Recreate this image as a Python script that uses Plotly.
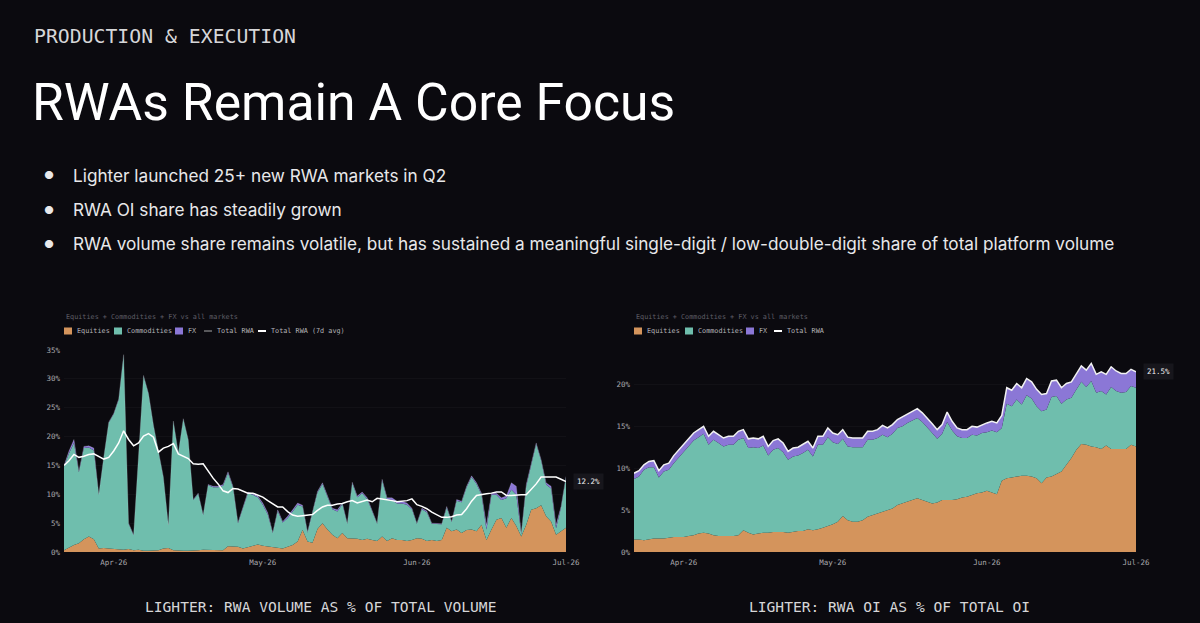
import plotly.graph_objects as go
import pandas as pd

# ---------------- DATA (% of platform) ----------------
dates = pd.date_range("2026-03-22", "2026-07-01", freq="D")

month_ticks = ["2026-04-01", "2026-05-01", "2026-06-01", "2026-07-01"]
month_labels = ["Apr-26", "May-26", "Jun-26", "Jul-26"]

vol_ticks = [0, 5, 10, 15, 20, 25, 30, 35]
vol_tick_labels = ["0%", "5%", "10%", "15%", "20%", "25%", "30%", "35%"]
oi_ticks = [0, 5, 10, 15, 20]
oi_tick_labels = ["0%", "5%", "10%", "15%", "20%"]

# Left chart: RWA volume as % of total volume
vol_equities = [
    0.3, 0.8, 1.2, 1.5, 2.2, 2.7, 2.2, 0.6, 0.7, 0.6,
    0.5, 0.4, 0.4, 0.5, 0.3, 0.4, 0.2, 0.2, 0.2, 0.3,
    0.6, 0.7, 0.3, 0.2, 0.2, 0.2, 0.2, 0.3, 0.4, 0.4,
    0.3, 0.3, 0.3, 1.0, 1.0, 0.9, 0.6, 0.8, 1.1, 1.3,
    1.1, 1.0, 0.9, 0.8, 0.6, 0.9, 1.2, 1.8, 3.8, 1.8,
    1.6, 4.0, 5.0, 3.9, 3.0, 2.4, 3.3, 2.4, 2.4, 2.3,
    2.1, 2.3, 2.1, 1.9, 2.7, 1.9, 2.4, 2.1, 2.1, 1.9,
    2.1, 2.4, 2.3, 1.9, 2.1, 1.9, 2.1, 4.2, 3.6, 3.9,
    3.3, 3.8, 3.9, 3.6, 4.7, 2.1, 3.9, 5.6, 5.9, 4.2,
    5.9, 4.5, 2.7, 4.7, 7.3, 7.6, 8.1, 6.2, 5.3, 3.0,
    3.6, 4.2,
]
vol_commodities = [
    14.5, 16.3, 17.7, 12.3, 15.8, 15.4, 15.4, 9.3, 15.7, 21.8,
    23.4, 26.0, 33.7, 4.4, 2.6, 16.5, 30.3, 27.2, 21.7, 17.1,
    12.3, 3.9, 22.3, 16.9, 22.8, 19.2, 8.8, 9.8, 6.0, 11.2,
    10.9, 10.9, 11.2, 12.7, 10.2, 4.1, 7.2, 9.4, 8.8, 8.2,
    7.1, 5.5, 2.4, 6.3, 4.5, 5.0, 5.8, 6.4, 4.1, 1.6,
    5.3, 6.3, 6.8, 5.6, 4.4, 4.6, 5.0, 2.5, 9.5, 7.2,
    8.1, 6.9, 5.0, 3.0, 9.7, 7.3, 6.6, 6.3, 6.3, 6.3,
    5.3, 2.5, 5.1, 5.0, 2.8, 2.9, 2.7, 3.5, 1.6, 5.0,
    5.3, 7.4, 9.1, 8.2, 5.2, 1.8, 6.0, 4.3, 3.1, 5.1,
    4.9, 5.4, 0.4, 6.7, 7.9, 11.1, 7.7, 5.5, 5.7, 1.1,
    4.1, 8.7,
]
vol_fx = [
    0.2, 0.4, 0.6, 0.2, 0.3, 0.3, 0.4, 0.1, 0.1, 0.1,
    0.1, 0.1, 0.1, 0.1, 0.1, 0.1, 0.1, 0.1, 0.1, 0.1,
    0.1, 0.1, 0.1, 0.1, 0.1, 0.1, 0.1, 0.1, 0.1, 0.1,
    0.2, 0.2, 0.2, 0.2, 0.2, 0.1, 0.1, 0.2, 0.2, 0.2,
    0.3, 0.3, 0.1, 0.2, 0.2, 0.3, 0.3, 0.3, 0.2, 0.1,
    0.1, 0.2, 0.2, 0.2, 0.2, 0.3, 0.2, 0.1, 0.2, 0.2,
    0.2, 0.2, 0.2, 0.1, 0.2, 0.2, 0.4, 0.4, 0.4, 0.3,
    0.2, 0.1, 0.2, 0.2, 0.1, 0.1, 0.1, 0.2, 0.1, 0.2,
    0.2, 0.2, 0.2, 0.2, 0.3, 0.8, 0.3, 0.3, 0.4, 0.4,
    1.2, 1.5, 0.2, 0.3, 0.2, 0.2, 0.2, 0.3, 0.4, 0.6,
    0.2, 0.2,
]
vol_total = [
    15.0, 17.5, 19.5, 14.0, 18.3, 18.4, 18.0, 10.0, 16.5, 22.5,
    24.0, 26.5, 34.2, 5.0, 3.0, 17.0, 30.6, 27.5, 22.0, 17.5,
    13.0, 4.7, 22.7, 17.2, 23.1, 19.5, 9.1, 10.2, 6.5, 11.7,
    11.4, 11.4, 11.7, 13.9, 11.4, 5.1, 7.9, 10.4, 10.1, 9.7,
    8.5, 6.8, 3.4, 7.3, 5.3, 6.2, 7.3, 8.5, 8.1, 3.5,
    7.0, 10.5, 12.0, 9.7, 7.6, 7.3, 8.5, 5.0, 12.1, 9.7,
    10.4, 9.4, 7.3, 5.0, 12.6, 9.4, 9.4, 8.8, 8.8, 8.5,
    7.6, 5.0, 7.6, 7.1, 5.0, 4.9, 4.9, 7.9, 5.3, 9.1,
    8.8, 11.4, 13.2, 12.0, 10.2, 4.7, 10.2, 10.2, 9.4, 9.7,
    12.0, 11.4, 3.3, 11.7, 15.4, 18.9, 16.0, 12.0, 11.4, 4.7,
    7.9, 13.1,
]
vol_total_7d = [
    15.0, 15.8, 16.9, 16.4, 16.6, 16.9, 17.0, 16.5, 16.1, 16.4,
    17.5, 18.9, 21.0, 19.5, 18.4, 18.9, 20.1, 20.5, 19.9, 17.3,
    18.0, 18.3, 18.8, 17.0, 16.6, 16.2, 15.3, 15.2, 15.3, 14.0,
    12.8, 11.8, 10.6, 10.3, 11.0, 10.9, 10.6, 10.2, 10.2, 9.9,
    9.5, 8.9, 8.3, 7.8, 7.8, 7.0, 6.4, 6.2, 6.3, 6.4,
    6.5, 7.2, 7.8, 8.1, 8.1, 8.3, 8.4, 8.7, 8.9, 8.5,
    8.7, 9.0, 8.7, 9.3, 9.2, 9.1, 8.9, 8.7, 8.8, 8.9,
    9.2, 8.2, 7.9, 7.5, 6.9, 6.5, 6.0, 6.0, 6.1, 6.4,
    6.5, 7.5, 8.8, 9.8, 10.0, 10.1, 10.2, 10.4, 10.4, 9.8,
    9.8, 9.9, 9.9, 9.9, 10.8, 11.8, 13.0, 13.0, 13.0, 13.0,
    12.6, 12.2,
]

# Right chart: RWA OI as % of total OI
oi_equities = [
    1.5, 1.5, 1.4, 1.5, 1.6, 1.6, 1.6, 1.7, 1.8, 1.8,
    1.8, 1.9, 2.0, 2.2, 2.3, 2.2, 2.0, 1.9, 1.9, 1.9,
    1.9, 2.0, 2.6, 2.3, 2.1, 2.2, 2.3, 2.3, 2.4, 2.4,
    2.4, 2.3, 2.4, 2.5, 2.5, 2.7, 2.6, 2.7, 2.9, 3.1,
    3.3, 3.6, 4.3, 3.8, 3.6, 3.6, 3.8, 4.2, 4.4, 4.6,
    4.8, 5.0, 5.2, 5.6, 5.8, 6.0, 6.2, 6.4, 6.2, 6.0,
    5.8, 5.9, 6.2, 6.2, 6.2, 6.3, 6.5, 6.6, 6.8, 7.0,
    7.1, 7.3, 7.1, 6.9, 8.5, 8.8, 8.9, 9.0, 9.1, 9.1,
    9.0, 8.8, 8.2, 8.9, 9.0, 9.3, 9.6, 10.4, 11.2, 12.2,
    12.9, 12.8, 12.6, 12.5, 12.3, 12.7, 12.3, 12.3, 12.3, 12.3,
    12.8, 12.6,
]
oi_commodities = [
    7.2, 7.5, 8.4, 8.6, 8.5, 7.3, 8.0, 8.1, 8.8, 9.5,
    10.1, 10.7, 11.3, 11.5, 11.8, 10.6, 11.4, 11.1, 10.7, 10.9,
    10.9, 11.4, 11.0, 10.1, 10.4, 10.2, 10.4, 9.2, 9.8, 10.0,
    9.5, 8.7, 9.0, 9.0, 9.3, 9.5, 8.8, 10.1, 9.9, 10.6,
    9.8, 9.3, 9.2, 8.8, 8.9, 8.9, 8.7, 9.2, 9.0, 9.0,
    9.2, 8.7, 8.9, 9.2, 9.2, 9.4, 9.5, 9.6, 9.3, 8.9,
    8.4, 7.6, 7.9, 9.3, 8.3, 7.5, 7.1, 7.0, 7.2, 6.9,
    7.1, 7.0, 7.4, 7.4, 6.3, 8.9, 8.5, 9.2, 8.5, 9.6,
    9.3, 8.6, 8.6, 8.1, 9.5, 9.3, 8.1, 7.8, 7.2, 7.2,
    7.4, 6.9, 7.8, 6.5, 6.9, 6.1, 7.4, 6.9, 6.7, 6.8,
    7.0, 7.0,
]
oi_fx = [
    0.7, 0.7, 0.6, 0.7, 0.8, 0.8, 0.8, 0.8, 0.9, 0.9,
    0.9, 0.9, 0.9, 0.9, 0.9, 1.0, 1.0, 1.0, 1.0, 1.0,
    1.0, 1.0, 1.0, 1.1, 1.1, 1.1, 1.1, 1.1, 1.1, 1.1,
    1.1, 1.0, 1.0, 1.0, 1.0, 1.0, 1.0, 1.0, 1.0, 1.1,
    1.1, 1.1, 1.1, 1.1, 1.1, 1.1, 1.1, 1.0, 1.0, 1.0,
    1.1, 1.1, 1.1, 1.0, 1.1, 1.1, 1.1, 1.1, 1.1, 1.1,
    1.1, 1.1, 1.1, 1.2, 1.1, 1.0, 1.0, 1.0, 1.0, 1.0,
    1.0, 1.1, 1.1, 1.1, 1.5, 1.9, 1.9, 1.9, 2.0, 2.0,
    2.0, 2.0, 2.0, 1.9, 1.9, 1.9, 1.9, 1.9, 1.9, 1.9,
    1.9, 2.0, 2.1, 2.2, 2.3, 2.4, 2.4, 2.4, 2.3, 2.2,
    2.0, 1.9,
]
oi_total = [
    9.4, 9.7, 10.4, 10.8, 10.9, 9.7, 10.4, 10.6, 11.5, 12.2,
    12.8, 13.5, 14.2, 14.6, 15.0, 13.8, 14.4, 14.0, 13.6, 13.8,
    13.8, 14.4, 14.6, 13.5, 13.6, 13.5, 13.8, 12.6, 13.3, 13.5,
    13.0, 12.0, 12.4, 12.5, 12.8, 13.2, 12.4, 13.8, 13.8, 14.8,
    14.2, 14.0, 14.6, 13.7, 13.6, 13.6, 13.6, 14.4, 14.4, 14.6,
    15.1, 14.8, 15.2, 15.8, 16.1, 16.5, 16.8, 17.1, 16.6, 16.0,
    15.3, 14.6, 15.2, 16.7, 15.6, 14.8, 14.6, 14.6, 15.0, 14.9,
    15.2, 15.4, 15.6, 15.4, 16.3, 19.6, 19.3, 20.1, 19.6, 20.7,
    20.3, 19.4, 18.8, 18.9, 20.4, 20.5, 19.6, 20.1, 20.3, 21.3,
    22.2, 21.7, 22.5, 21.2, 21.5, 21.2, 22.1, 21.6, 21.3, 21.3,
    21.8, 21.5,
]

series_names = ["Equities", "Commodities", "FX"]

# ---------------- STYLE ----------------
W, H = 1200, 623
BG = "#0b0a0f"
C_EQ = "#d4945c"
C_COM = "#6fbead"
C_FX = "#8b77d6"
MONO = "DejaVu Sans Mono, Liberation Mono, monospace"
SANS = "Inter, Roboto, Liberation Sans, sans-serif"
TITLE = "Roboto, Inter, sans-serif"


def px(x):
    return x / W


def py(y):
    return 1 - y / H


fig = go.Figure()

# Left chart (volume)
for name, vals, col in zip(series_names, [vol_equities, vol_commodities, vol_fx], [C_EQ, C_COM, C_FX]):
    fig.add_trace(go.Scatter(x=dates, y=vals, name=name, mode="lines", stackgroup="vol",
                             line=dict(width=0, color=col), fillcolor=col,
                             xaxis="x", yaxis="y", showlegend=False))
fig.add_trace(go.Scatter(x=dates, y=vol_total, name="Total RWA", mode="lines",
                         line=dict(width=0.6, color="rgba(225,225,225,0.3)"),
                         xaxis="x", yaxis="y", showlegend=False))
fig.add_trace(go.Scatter(x=dates, y=vol_total_7d, name="Total RWA (7d avg)", mode="lines",
                         line=dict(width=1.5, color="#ffffff"),
                         xaxis="x", yaxis="y", showlegend=False))

# Right chart (OI)
for name, vals, col in zip(series_names, [oi_equities, oi_commodities, oi_fx], [C_EQ, C_COM, C_FX]):
    fig.add_trace(go.Scatter(x=dates, y=vals, name=name, mode="lines", stackgroup="oi",
                             line=dict(width=0, color=col), fillcolor=col,
                             xaxis="x2", yaxis="y2", showlegend=False))
fig.add_trace(go.Scatter(x=dates, y=oi_total, name="Total RWA", mode="lines",
                         line=dict(width=1.5, color="#f2f2f2"),
                         xaxis="x2", yaxis="y2", showlegend=False))

tickfont = dict(family=MONO, size=7.5, color="#a9a9ad")
xcommon = dict(type="date", range=[dates[0], dates[-1]], tickvals=month_ticks, ticktext=month_labels,
               showgrid=False, zeroline=False, showline=False, ticks="", tickfont=tickfont,
               ticklabelstandoff=4, automargin=False, fixedrange=True)
ycommon = dict(showgrid=True, gridcolor="rgba(255,255,255,0.03)", gridwidth=1, zeroline=False,
               showline=False, ticks="", tickfont=tickfont, ticklabelstandoff=3,
               automargin=False, fixedrange=True)

annotations = []
shapes = []


def text(x, y, s, size, color, family, xanchor="left", yanchor="middle"):
    annotations.append(dict(x=px(x), y=py(y), xref="paper", yref="paper", text=s, showarrow=False,
                            xanchor=xanchor, yanchor=yanchor,
                            font=dict(size=size, color=color, family=family)))


# Header
text(32, 36, "PRODUCTION &amp; EXECUTION", 19.8, "#d6d6d8", MONO)
text(30, 102, "RWAs Remain A Core Focus", 51.7, "#ffffff", TITLE)
bullets = [
    "Lighter launched 25+ new RWA markets in Q2",
    "RWA OI share has steadily grown",
    "RWA volume share remains volatile, but has sustained a meaningful single-digit / low-double-digit share of total platform volume",
]
for i, b in enumerate(bullets):
    yy = 175 + i * 34.5
    text(42, yy, "●", 11, "#e8e8ea", SANS)
    text(71, yy, b, 17.2, "#e8e8ea", SANS)


# Chart titles and legends (manual)
def legend_block(x0, items):
    for kind, col, label, xs, xt in items:
        if kind == "box":
            shapes.append(dict(type="rect", xref="paper", yref="paper",
                               x0=px(x0 + xs), x1=px(x0 + xs + 8), y0=py(334.5), y1=py(327.5),
                               fillcolor=col, line=dict(width=0)))
        else:
            shapes.append(dict(type="line", xref="paper", yref="paper",
                               x0=px(x0 + xs), x1=px(x0 + xs + 8), y0=py(331), y1=py(331),
                               line=dict(color=col, width=(0.8 if kind == "thin" else 2))))
        text(x0 + xt, 331, label, 6.8, "#b4b4b8", MONO)


text(64, 317, "Equities + Commodities + FX vs all markets", 6.8, "#5f5e66", MONO)
legend_block(64, [
    ("box", C_EQ, "Equities", 0, 11),
    ("box", C_COM, "Commodities", 50, 61),
    ("box", C_FX, "FX", 111, 122),
    ("thin", "#cfcfcf", "Total RWA", 140, 151),
    ("thick", "#ffffff", "Total RWA (7d avg)", 194, 205),
])
text(634, 317, "Equities + Commodities + FX vs all markets", 6.8, "#5f5e66", MONO)
legend_block(634, [
    ("box", C_EQ, "Equities", 0, 11),
    ("box", C_COM, "Commodities", 51, 62),
    ("box", C_FX, "FX", 112, 123),
    ("thick", "#ffffff", "Total RWA", 140, 151),
])

# End-value labels
annotations.append(dict(x=dates[-1], y=vol_total_7d[-1], xref="x", yref="y",
                        text=f"{vol_total_7d[-1]}%", showarrow=False, xanchor="left", xshift=7,
                        bgcolor="#17161c", borderpad=3,
                        font=dict(family=MONO, size=7.5, color="#f0f0f0")))
annotations.append(dict(x=dates[-1], y=oi_total[-1], xref="x2", yref="y2",
                        text=f"{oi_total[-1]}%", showarrow=False, xanchor="left", xshift=7,
                        bgcolor="#17161c", borderpad=3,
                        font=dict(family=MONO, size=7.5, color="#f0f0f0")))

# Captions
text(320, 606, "LIGHTER: RWA VOLUME AS % OF TOTAL VOLUME", 14.6, "#d6d6d8", MONO, xanchor="center")
text(889, 606, "LIGHTER: RWA OI AS % OF TOTAL OI", 14.6, "#d6d6d8", MONO, xanchor="center")

fig.update_layout(
    width=W, height=H,
    margin=dict(l=0, r=0, t=0, b=0, autoexpand=False),
    paper_bgcolor=BG, plot_bgcolor=BG,
    showlegend=False,
    xaxis=dict(domain=[px(64), px(566)], anchor="y", **xcommon),
    yaxis=dict(domain=[py(552), py(350)], anchor="x", range=[0, 35],
               tickvals=vol_ticks, ticktext=vol_tick_labels, **ycommon),
    xaxis2=dict(domain=[px(634), px(1136)], anchor="y2", **xcommon),
    yaxis2=dict(domain=[py(552), py(350)], anchor="x2", range=[0, 24.1],
                tickvals=oi_ticks, ticktext=oi_tick_labels, **ycommon),
    annotations=annotations,
    shapes=shapes,
    hovermode=False,
)

fig.write_html("out.html")
